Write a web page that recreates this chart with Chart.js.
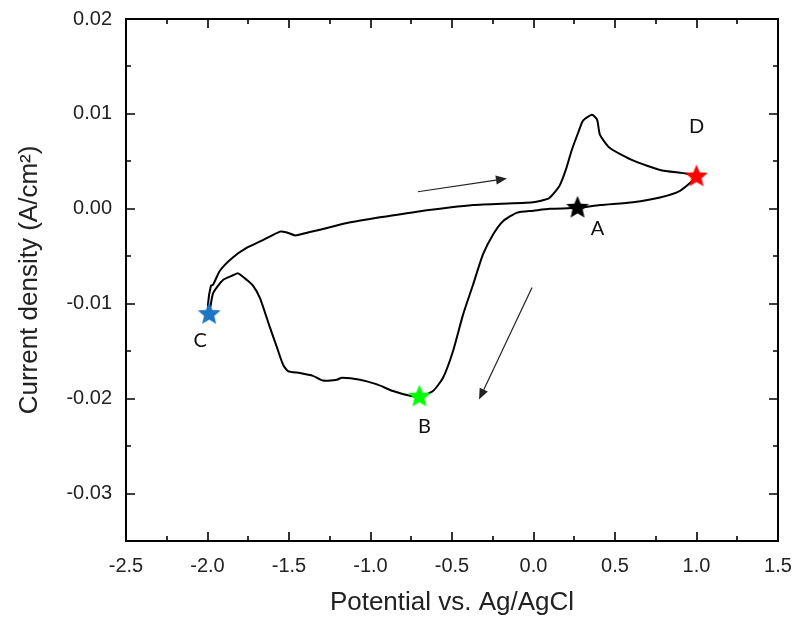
<!DOCTYPE html>
<html>
<head>
<meta charset="utf-8">
<script src="https://cdn.jsdelivr.net/npm/chart.js@4.4.1/dist/chart.umd.min.js"></script>
<style>
  html, body { margin: 0; padding: 0; background: #fff; }
</style>
</head>
<body>
<canvas id="cv" width="793" height="618"></canvas>
<script>
// Cyclic voltammogram, traced from D -> A -> B -> C -> oxidation peak -> D
const potential = [
  1.00, 0.979, 0.899, 0.776, 0.610, 0.408, 0.27, 0.10, 0.00, -0.10,
  -0.187, -0.248, -0.310, -0.371, -0.433, -0.494, -0.555, -0.617, -0.70, -0.758,
  -0.862, -0.960, -1.064, -1.175, -1.206, -1.291, -1.353, -1.433, -1.506, -1.537,
  -1.574, -1.617, -1.678, -1.721, -1.758, -1.813, -1.843, -1.905, -1.966, -1.99,
  -1.997, -1.979, -1.966, -1.923, -1.850, -1.758, -1.660, -1.555, -1.512, -1.463,
  -1.433, -1.310, -1.144, -0.942, -0.715, -0.371, -0.003, 0.094, 0.137, 0.162,
  0.198, 0.235, 0.278, 0.304, 0.359, 0.390, 0.408, 0.469, 0.610, 0.776,
  0.942, 1.00
];
const current = [
  0.0034, 0.0030, 0.0019, 0.0012, 0.0007, 0.0004, 0.0001, 0.0000, -0.0002, -0.0004,
  -0.0013, -0.0027, -0.0048, -0.0080, -0.0112, -0.0150, -0.0178, -0.0192, -0.0198, -0.0197,
  -0.0192, -0.0185, -0.0180, -0.0178, -0.0180, -0.0181, -0.0176, -0.0173, -0.0171, -0.0164,
  -0.0146, -0.0125, -0.0094, -0.0081, -0.0075, -0.0068, -0.0070, -0.0075, -0.0089, -0.0111,
  -0.0101, -0.0081, -0.0080, -0.0065, -0.0052, -0.0041, -0.0033, -0.0024, -0.0025, -0.0028,
  -0.0027, -0.0022, -0.0015, -0.0009, -0.0003, 0.0004, 0.0007, 0.0011, 0.0019, 0.0025,
  0.0041, 0.0062, 0.0082, 0.0093, 0.0099, 0.0094, 0.0078, 0.0064, 0.0051, 0.0041,
  0.0037, 0.0034
];

// marked points
const markerLabels = ["A", "B", "C", "D"];
const markerX = [0.27, -0.70, -1.99, 1.00];
const markerY = [0.0001, -0.0198, -0.0111, 0.0034];
const markerColors = ["#000000", "#00ff00", "#1f74c4", "#ff0000"];

// axis ticks
const xTickValues = [-2.5, -2.0, -1.5, -1.0, -0.5, 0.0, 0.5, 1.0, 1.5];
const yTickValues = [-0.03, -0.02, -0.01, 0.00, 0.01, 0.02];

// scan direction arrows (data coords: x0, y0, x1, y1)
const arrows = [
  [-0.709, 0.0018, -0.163, 0.0032],
  [-0.009, -0.0083, -0.334, -0.0201]
];

function starImage(color) {
  const r = 12;
  const c = document.createElement("canvas");
  c.width = c.height = 2 * r + 2;
  const g = c.getContext("2d");
  g.beginPath();
  for (let i = 0; i < 10; i++) {
    const rad = i % 2 ? r * 0.45 : r;
    const ang = -Math.PI / 2 + i * Math.PI / 5;
    g.lineTo(r + 1 + rad * Math.cos(ang), r + 1 + rad * Math.sin(ang));
  }
  g.closePath();
  g.fillStyle = color;
  g.fill();
  return c;
}

// frame with inward major + minor ticks on all four sides
const framePlugin = {
  id: "frame",
  afterDraw(chart) {
    const { ctx, chartArea: a, scales: { x, y } } = chart;
    ctx.save();
    ctx.strokeStyle = "#000";
    ctx.lineWidth = 1.6;
    for (let i = 0; i <= 16; i++) {
      const p = Math.round(x.getPixelForValue(-2.5 + i * 0.25));
      const len = i % 2 === 0 ? 9 : 5;
      ctx.beginPath();
      ctx.moveTo(p, a.bottom); ctx.lineTo(p, a.bottom - len);
      ctx.moveTo(p, a.top); ctx.lineTo(p, a.top + len);
      ctx.stroke();
    }
    for (let i = 0; i <= 11; i++) {
      const p = Math.round(y.getPixelForValue(0.02 - i * 0.005));
      const len = i % 2 === 0 ? 9 : 5;
      ctx.beginPath();
      ctx.moveTo(a.left, p); ctx.lineTo(a.left + len, p);
      ctx.moveTo(a.right, p); ctx.lineTo(a.right - len, p);
      ctx.stroke();
    }
    ctx.lineWidth = 2;
    ctx.strokeRect(a.left, a.top, a.right - a.left, a.bottom - a.top);
    ctx.restore();
  }
};

// point labels and arrows
const notesPlugin = {
  id: "notes",
  afterDatasetsDraw(chart) {
    const { ctx, scales: { x, y } } = chart;
    const offsets = [[20, 21], [5, 30], [-9, 26], [0, -50]];
    ctx.save();
    ctx.font = "20px Lato, 'Open Sans', sans-serif";
    ctx.fillStyle = "#111";
    ctx.textAlign = "center";
    ctx.textBaseline = "middle";
    markerLabels.forEach((t, i) => {
      const px = x.getPixelForValue(markerX[i]) + offsets[i][0];
      const py = y.getPixelForValue(markerY[i]) + offsets[i][1];
      ctx.fillText(t, px, py);
    });

    ctx.strokeStyle = "#222";
    ctx.fillStyle = "#222";
    ctx.lineWidth = 1.2;
    arrows.forEach(([x0, y0, x1, y1]) => {
      const ax = x.getPixelForValue(x0), ay = y.getPixelForValue(y0);
      const bx = x.getPixelForValue(x1), by = y.getPixelForValue(y1);
      const ang = Math.atan2(by - ay, bx - ax);
      const hl = 11, hw = 4.5;
      const sx = bx - hl * Math.cos(ang), sy = by - hl * Math.sin(ang);
      ctx.beginPath();
      ctx.moveTo(ax, ay); ctx.lineTo(sx, sy);
      ctx.stroke();
      ctx.beginPath();
      ctx.moveTo(bx, by);
      ctx.lineTo(sx + hw * Math.sin(ang), sy - hw * Math.cos(ang));
      ctx.lineTo(sx - hw * Math.sin(ang), sy + hw * Math.cos(ang));
      ctx.closePath();
      ctx.fill();
    });
    ctx.restore();
  }
};

const tickFont = { family: "'Liberation Sans', Arial, sans-serif", size: 20 };
const titleFont = { family: "'Liberation Sans', Arial, sans-serif", size: 26 };

new Chart(document.getElementById("cv").getContext("2d"), {
  type: "scatter",
  data: {
    datasets: [
      {
        label: "CV",
        data: potential.map((v, i) => ({ x: v, y: current[i] })),
        showLine: true,
        borderColor: "#000",
        borderWidth: 2,
        pointRadius: 0,
        tension: 0.2,
        order: 2
      },
      {
        label: "markers",
        data: markerX.map((v, i) => ({ x: v, y: markerY[i] })),
        pointStyle: markerColors.map(starImage),
        order: 1
      }
    ]
  },
  options: {
    responsive: false,
    animation: false,
    layout: { padding: { left: 0, right: 15, top: 19, bottom: 0 } },
    plugins: { legend: { display: false }, tooltip: { enabled: false } },
    scales: {
      x: {
        min: -2.5,
        max: 1.5,
        grid: { display: false, drawTicks: false },
        border: { display: false },
        afterBuildTicks: (s) => { s.ticks = xTickValues.map((v) => ({ value: v })); },
        afterFit: (s) => { s.height = 77; s.paddingLeft = 0; s.paddingRight = 0; },
        ticks: {
          padding: 13,
          color: "#222",
          font: tickFont,
          maxRotation: 0,
          callback: (v) => Number(v).toFixed(1)
        },
        title: {
          display: true,
          text: "Potential vs. Ag/AgCl",
          color: "#222",
          font: titleFont,
          padding: { top: 0, bottom: 0 }
        }
      },
      y: {
        min: -0.035,
        max: 0.02,
        grid: { display: false, drawTicks: false },
        border: { display: false },
        afterBuildTicks: (s) => { s.ticks = yTickValues.map((v) => ({ value: v })); },
        afterFit: (s) => { s.width = 126; s.paddingTop = 0; s.paddingBottom = 0; },
        ticks: {
          padding: 14,
          color: "#222",
          font: tickFont,
          callback: (v) => Number(v).toFixed(2)
        },
        title: {
          display: true,
          text: "Current density (A/cm\u00B2)",
          color: "#222",
          font: titleFont,
          padding: { top: 14, bottom: 0 }
        }
      }
    }
  },
  plugins: [framePlugin, notesPlugin]
});
</script>
</body>
</html>
